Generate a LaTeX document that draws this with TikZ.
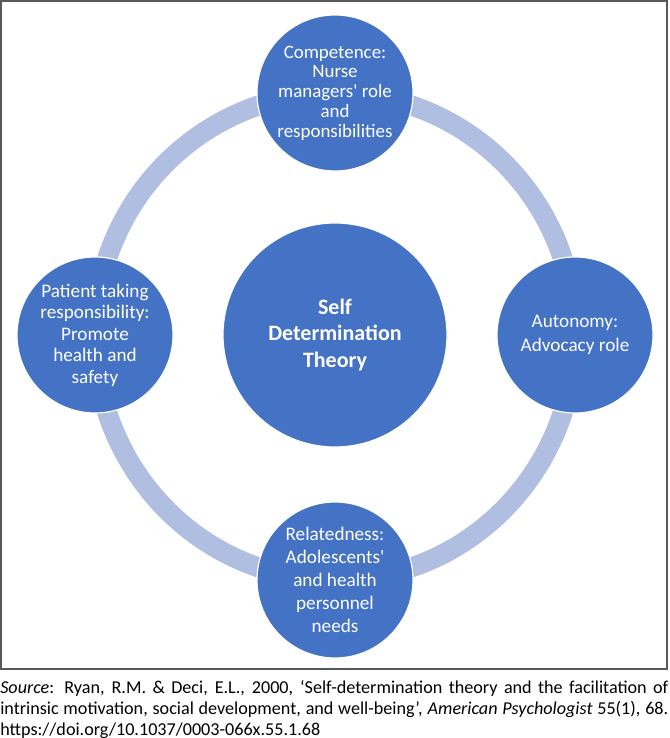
\documentclass[tikz,border=0pt]{standalone}
\usepackage{fontspec}
\setmainfont{Carlito}[Ligatures=TeXOff]
\usepackage{xcolor}
\usetikzlibrary{positioning,backgrounds}

\definecolor{sdtblue}{HTML}{4472C4}
\definecolor{ringblue}{HTML}{B0BEE1}
\definecolor{framegray}{HTML}{595959}

\tikzset{
  bubble/.style={circle, fill=sdtblue, draw=white, line width=0.9pt,
    minimum size=117pt, inner sep=0pt, text=white, align=center},
  hub/.style={bubble, minimum size=168pt,
    font=\fontsize{16.5}{20}\selectfont\bfseries},
  ringline/.style={ringblue, line width=15pt}
}

\begin{document}
\begin{tikzpicture}[x=0.75pt,y=0.75pt]
  \useasboundingbox (0,0) rectangle (670,738);

  % Frame
  \draw[framegray, line width=0.9pt] (1,69) rectangle (667,737);

  % Centre and the four needs
  \node[hub] (sdt) at (335,403) {Self\\Determination\\Theory};
  \node[bubble, font=\fontsize{14.2}{14.8}\selectfont] (comp) at (335,645)
    {Competence:\\Nurse\\managers' role\\and\\responsibilities};
  \node[bubble, font=\fontsize{14.4}{18}\selectfont] (auton) at (575,403)
    {Autonomy:\\Advocacy role};
  \node[bubble, font=\fontsize{14.4}{17.2}\selectfont] (relat) at (335,158)
    {Relatedness:\\Adolescents'\\and health\\personnel\\needs};
  \node[bubble, font=\fontsize{14.4}{16.1}\selectfont] (patient) at (95,403)
    {Patient taking\\responsibility:\\Promote\\health and\\safety};

  % Ring through the four needs
  \begin{scope}[on background layer]
    \draw[ringline] (comp.center) to[out=0,in=90] (auton.center)
      to[out=-90,in=0] (relat.center)
      to[out=180,in=-90] (patient.center)
      to[out=90,in=180] (comp.center);
  \end{scope}

  % Source
  \node[anchor=north west, inner sep=0pt, text width=501pt, align=justify,
    font=\fontsize{13.6}{15.75}\selectfont] (src) at (0,58)
    {\textit{Source}: Ryan, R.M. \& Deci, E.L., 2000, ‘Self-determination theory and the facilitation of\linebreak intrinsic motivation, social development, and well-being’, \textit{American Psychologist} 55(1), 68.\linebreak https://doi.org/10.1037/0003-066x.55.1.68};
\end{tikzpicture}
\end{document}
